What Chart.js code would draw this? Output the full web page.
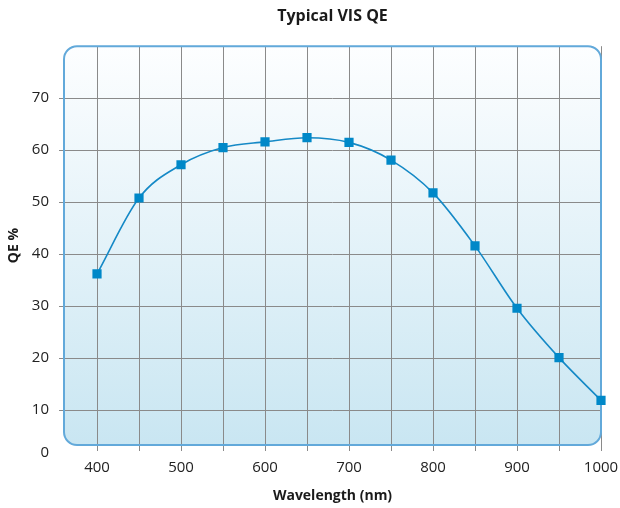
<!DOCTYPE html>
<html>
<head>
<meta charset="utf-8">
<script src="https://cdn.jsdelivr.net/npm/chart.js@4"></script>
<style>
  html, body { margin: 0; padding: 0; background: #fff; }
  #wrap { width: 620px; height: 508px; }
</style>
</head>
<body>
<div id="wrap"><canvas id="grafico"></canvas></div>
<script>
// datos
const longitudes = [400, 450, 500, 550, 600, 650, 700, 750, 800, 850, 900, 950, 1000];
const qe = [36.2, 50.8, 57.2, 60.5, 61.6, 62.4, 61.5, 58.1, 51.8, 41.6, 29.6, 20.1, 11.9];
const ticksX = [400, 450, 500, 550, 600, 650, 700, 750, 800, 850, 900, 950, 1000];
const ticksY = [10, 20, 30, 40, 50, 60, 70];

const fuente = "'Open Sans', 'Noto Sans', sans-serif";

// fondo con degradado y borde redondeado del area del grafico
const cajaPlugin = {
    id: 'caja',
    beforeDraw(chart) {
        const { ctx, chartArea: a } = chart;
        const g = ctx.createLinearGradient(0, a.top, 0, a.bottom);
        g.addColorStop(0, '#fdfeff');
        g.addColorStop(1, '#c9e6f2');
        ctx.save();
        ctx.beginPath();
        ctx.roundRect(a.left, a.top, a.right - a.left, a.bottom - a.top, 13);
        ctx.fillStyle = g;
        ctx.fill();
        ctx.restore();
    },
    beforeDatasetsDraw(chart) {
        const { ctx, chartArea: a } = chart;
        ctx.save();
        ctx.beginPath();
        ctx.roundRect(a.left, a.top, a.right - a.left, a.bottom - a.top, 13);
        ctx.lineWidth = 2;
        ctx.strokeStyle = '#62a9da';
        ctx.stroke();
        ctx.restore();
    }
};

new Chart(document.getElementById('grafico'), {
    type: 'line',
    data: {
        labels: longitudes,
        datasets: [{
            data: longitudes.map((x, i) => ({ x: x, y: qe[i] })),
            borderColor: '#1589c6',
            borderWidth: 1.6,
            backgroundColor: '#0088c8',
            pointStyle: 'rect',
            pointRadius: 6.5,
            pointBorderWidth: 0,
            cubicInterpolationMode: 'monotone',
            clip: 10
        }]
    },
    options: {
        responsive: true,
        maintainAspectRatio: false,
        animation: false,
        layout: { padding: { left: 0, right: 19, top: 0, bottom: 0 } },
        plugins: {
            legend: { display: false },
            tooltip: { enabled: false },
            title: {
                display: true,
                fullSize: false,
                text: 'Typical VIS QE',
                color: '#1a1a1a',
                font: { family: fuente, size: 16, weight: 'bold' },
                padding: { top: 7, bottom: 20 }
            }
        },
        scales: {
            x: {
                type: 'linear',
                min: 360.7,
                max: 1000,
                afterBuildTicks: s => { s.ticks = ticksX.map(v => ({ value: v })); },
                afterFit: s => { s.height = 63; s.paddingRight = 0; },
                border: { display: false },
                grid: { color: '#8a8a8a', lineWidth: 1, tickLength: 6 },
                ticks: {
                    color: '#222',
                    padding: 8,
                    maxRotation: 0,
                    autoSkip: false,
                    font: { family: fuente, size: 15 },
                    callback: v => (v % 100 === 0 ? String(v) : '')
                },
                title: {
                    display: true,
                    text: 'Wavelength (nm)',
                    color: '#1a1a1a',
                    font: { family: fuente, size: 14, weight: 'bold' },
                    padding: { top: 4, bottom: 4 }
                }
            },
            y: {
                min: 3.3,
                max: 80,
                afterBuildTicks: s => { s.ticks = [{ value: 1.8 }].concat(ticksY.map(v => ({ value: v }))); },
                afterFit: s => { s.width = 64; },
                border: { display: false },
                grid: {
                    color: c => (c.tick && c.tick.value < 5 ? 'rgba(0,0,0,0)' : '#8a8a8a'),
                    lineWidth: 1,
                    tickLength: 5
                },
                ticks: {
                    color: '#222',
                    padding: 10,
                    autoSkip: false,
                    font: { family: fuente, size: 15 },
                    callback: v => (v < 5 ? '0' : String(v))
                },
                title: {
                    display: true,
                    text: 'QE %',
                    color: '#1a1a1a',
                    font: { family: fuente, size: 14, weight: 'bold' },
                    padding: { top: 6, bottom: 4 }
                }
            }
        }
    },
    plugins: [cajaPlugin]
});
</script>
</body>
</html>
